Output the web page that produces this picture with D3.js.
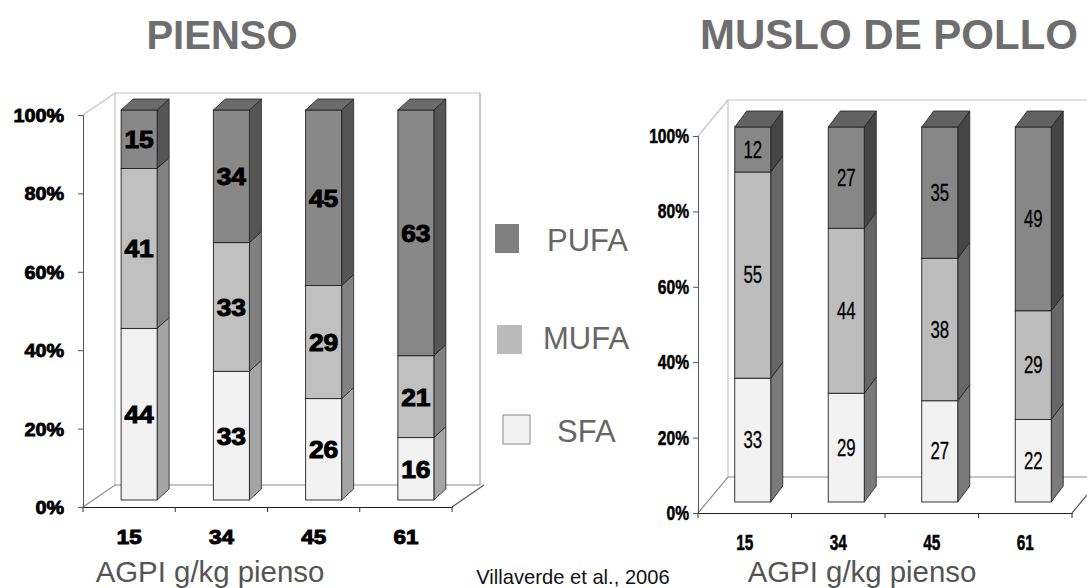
<!DOCTYPE html>
<html>
<head>
<meta charset="utf-8">
<script src="https://cdn.jsdelivr.net/npm/d3@7"></script>
<style>
  html, body { margin: 0; padding: 0; background: #fff; }
  svg { display: block; }
</style>
</head>
<body>
<svg id="chart" width="1087" height="588"></svg>
<script>
// Fatty acid profile (% of total) by PUFA level in feed
const categories = ["15", "34", "45", "61"];
const seriesNames = ["SFA", "MUFA", "PUFA"];
const yTickValues = [0, 20, 40, 60, 80, 100];

// Feed (pienso)
const piensoSFA  = [44, 33, 26, 16];
const piensoMUFA = [41, 33, 29, 21];
const piensoPUFA = [15, 34, 45, 63];

// Chicken thigh (muslo de pollo)
const musloSFA  = [33, 29, 27, 22];
const musloMUFA = [55, 44, 38, 29];
const musloPUFA = [12, 27, 35, 49];

const svg = d3.select("#chart");

function rowsFrom(sfa, mufa, pufa) {
  return categories.map((c, i) => ({ cat: c, SFA: sfa[i], MUFA: mufa[i], PUFA: pufa[i] }));
}

// Draws one pseudo-3D stacked 100% column panel
function drawPanel(rows, o) {
  const g = svg.append("g");

  const x = d3.scaleBand().domain(categories).range([o.axisX, o.axisRight]).paddingInner(0).paddingOuter(0);
  const yAxis = d3.scaleLinear().domain([0, 100]).range([o.axisY0, o.axisY100]);
  const yBar = d3.scaleLinear().domain([0, 100]).range([o.barY0, o.barY100]);

  const wdx = o.wallDx, wdy = o.wallDy;
  const wall = g.append("g").attr("fill", "none");
  // back wall
  wall.append("path")
    .attr("d", `M${o.axisX + wdx},${yAxis(0) - wdy} V${yAxis(100) - wdy} H${o.wallRight}`)
    .attr("stroke", "#c4c4c4").attr("stroke-width", 1.2);
  if (o.wallRight < 1087) {
    wall.append("line")
      .attr("x1", o.wallRight).attr("x2", o.wallRight)
      .attr("y1", yAxis(100) - wdy).attr("y2", yAxis(0) - wdy)
      .attr("stroke", "#b0b0b0").attr("stroke-width", 1.4);
  }
  // diagonal at top-left
  wall.append("line")
    .attr("x1", o.axisX).attr("y1", yAxis(100))
    .attr("x2", o.axisX + wdx).attr("y2", yAxis(100) - wdy)
    .attr("stroke", "#c4c4c4").attr("stroke-width", 1.2);
  // floor
  wall.append("path")
    .attr("d", `M${o.axisX},${yAxis(0)} L${o.axisX + wdx},${yAxis(0) - wdy} H${o.wallRight}`)
    .attr("stroke", "#8a8a8a").attr("stroke-width", 1.2);
  wall.append("line")
    .attr("x1", o.axisRight).attr("y1", yAxis(0))
    .attr("x2", o.axisRight + wdx).attr("y2", yAxis(0) - wdy)
    .attr("stroke", "#555").attr("stroke-width", 1.2);

  // front axes
  const yAx = g.append("g").attr("transform", `translate(${o.axisX},0)`)
    .call(d3.axisLeft(yAxis).tickValues(yTickValues).tickSize(5).tickFormat(""));
  yAx.select(".domain").attr("stroke", "#555");
  yAx.selectAll(".tick line").attr("stroke", "#555");

  const xAx = g.append("g").attr("transform", `translate(0,${yAxis(0)})`)
    .call(d3.axisBottom(x).tickSize(0).tickFormat(""));
  xAx.select(".domain").attr("stroke", "#222");
  // tick marks on band boundaries
  const bounds = categories.map(c => x(c)).concat([o.axisRight]);
  g.selectAll(".xb").data(bounds).enter().append("line")
    .attr("x1", d => d).attr("x2", d => d)
    .attr("y1", yAxis(0)).attr("y2", yAxis(0) + 5)
    .attr("stroke", "#333");

  // y tick labels
  yTickValues.forEach(v => {
    const t = g.append("g").attr("transform", `translate(${o.tickLabelX},${yAxis(v) + o.tickLabelDy}) scale(${o.tickScaleX},1)`);
    t.append("text")
      .attr("text-anchor", "end")
      .attr("font-family", "Liberation Sans, Arial, sans-serif")
      .attr("font-weight", "bold")
      .attr("font-size", o.tickFont)
      .attr("fill", "#000")
      .attr("stroke", "#000").attr("stroke-width", o.tickStroke)
      .text(v + "%");
  });

  // x category labels
  categories.forEach(c => {
    const t = g.append("g").attr("transform", `translate(${x(c) + x.bandwidth() / 2 + o.catDx},${o.catY}) scale(${o.catScaleX},1)`);
    t.append("text")
      .attr("text-anchor", "middle")
      .attr("font-family", "Liberation Sans, Arial, sans-serif")
      .attr("font-weight", "bold")
      .attr("font-size", o.catFont)
      .attr("fill", "#000")
      .attr("stroke", "#000").attr("stroke-width", o.catStroke)
      .text(c);
  });

  // bars
  const stack = d3.stack().keys(seriesNames)(rows);
  const bw = o.barW, bdx = o.barDx, bdy = o.barDy;
  const barX = c => x(c) + x.bandwidth() / 2 + o.barShift - bw / 2;

  stack.forEach((layer, li) => {
    const key = layer.key;
    const col = o.colors[key];
    layer.forEach(d => {
      const c = d.data.cat;
      const x0 = barX(c);
      const yt = yBar(d[1]), yb = yBar(d[0]);
      // side face
      g.append("path")
        .attr("d", `M${x0 + bw},${yt} L${x0 + bw + bdx},${yt - bdy} L${x0 + bw + bdx},${yb - bdy} L${x0 + bw},${yb} Z`)
        .attr("fill", col.side).attr("stroke", "#222").attr("stroke-width", 0.8);
      // front face
      g.append("rect")
        .attr("x", x0).attr("y", yt).attr("width", bw).attr("height", yb - yt)
        .attr("fill", col.front).attr("stroke", "#222").attr("stroke-width", 0.9);
      // top face on the last segment
      if (li === stack.length - 1) {
        g.append("path")
          .attr("d", `M${x0},${yt} L${x0 + bdx},${yt - bdy} L${x0 + bw + bdx},${yt - bdy} L${x0 + bw},${yt} Z`)
          .attr("fill", col.top).attr("stroke", "#222").attr("stroke-width", 0.8);
      }
      // value label
      const val = d[1] - d[0];
      const t = g.append("g").attr("transform", `translate(${x0 + bw / 2},${(yt + yb) / 2 + o.valDy}) scale(${o.valScaleX},1)`);
      t.append("text")
        .attr("text-anchor", "middle")
        .attr("font-family", "Liberation Sans, Arial, sans-serif")
        .attr("font-weight", o.valWeight)
        .attr("font-size", o.valFont)
        .attr("fill", "#000")
        .attr("stroke", "#000").attr("stroke-width", o.valStroke)
        .text(val);
    });
  });
}

drawPanel(rowsFrom(piensoSFA, piensoMUFA, piensoPUFA), {
  axisX: 83, axisRight: 452, axisY0: 507, axisY100: 115,
  barY0: 500, barY100: 110,
  wallDx: 32, wallDy: 22, wallRight: 480,
  barW: 36, barDx: 12, barDy: 11, barShift: 10,
  tickLabelX: 64, tickLabelDy: 7, tickFont: 18, tickStroke: 0.8, tickScaleX: 1.1,
  catDx: 0, catY: 544, catFont: 20, catStroke: 1.0, catScaleX: 1.12,
  valFont: 24, valWeight: "bold", valStroke: 1.0, valScaleX: 1.1, valDy: 9,
  colors: {
    SFA:  { front: "#f2f2f2", side: "#a4a4a4", top: "#dcdcdc" },
    MUFA: { front: "#c0c0c0", side: "#818181", top: "#a0a0a0" },
    PUFA: { front: "#888888", side: "#555555", top: "#6b6b6b" }
  }
});

drawPanel(rowsFrom(musloSFA, musloMUFA, musloPUFA), {
  axisX: 698, axisRight: 1072, axisY0: 513, axisY100: 136,
  barY0: 502, barY100: 127,
  wallDx: 30, wallDy: 36, wallRight: 1100,
  barW: 36, barDx: 12, barDy: 16, barShift: 8,
  tickLabelX: 689, tickLabelDy: 7, tickFont: 20, tickStroke: 0.5, tickScaleX: 0.78,
  catDx: 0, catY: 550, catFont: 22, catStroke: 0.5, catScaleX: 0.7,
  valFont: 24, valWeight: "normal", valStroke: 0.3, valScaleX: 0.7, valDy: 8,
  colors: {
    SFA:  { front: "#f2f2f2", side: "#7a7a7a", top: "#d0d0d0" },
    MUFA: { front: "#bdbdbd", side: "#666666", top: "#9a9a9a" },
    PUFA: { front: "#878787", side: "#454545", top: "#626262" }
  }
});

// Titles
svg.append("text").attr("x", 222).attr("y", 49).attr("text-anchor", "middle")
  .attr("font-family", "Liberation Sans, Arial, sans-serif").attr("font-weight", "bold")
  .attr("font-size", 40).attr("fill", "#6e6e6e").text("PIENSO");
svg.append("text").attr("x", 889).attr("y", 49).attr("text-anchor", "middle")
  .attr("font-family", "Liberation Sans, Arial, sans-serif").attr("font-weight", "bold")
  .attr("font-size", 42).attr("fill", "#6e6e6e").text("MUSLO DE POLLO");

// Legend (top to bottom: PUFA, MUFA, SFA)
const legendItems = [
  { name: "PUFA", fill: "#808080", stroke: "none", sx: 495, sy: 224, sw: 24, sh: 29, tx: 547, ty: 251 },
  { name: "MUFA", fill: "#bbbbbb", stroke: "none", sx: 497, sy: 325, sw: 25, sh: 29, tx: 543, ty: 349 },
  { name: "SFA",  fill: "#f2f2f2", stroke: "#8a8a8a", sx: 503, sy: 415, sw: 27, sh: 29, tx: 557, ty: 442 }
];
const lg = svg.append("g");
legendItems.forEach(d => {
  lg.append("rect").attr("x", d.sx).attr("y", d.sy).attr("width", d.sw).attr("height", d.sh)
    .attr("fill", d.fill).attr("stroke", d.stroke);
  lg.append("text").attr("x", d.tx).attr("y", d.ty)
    .attr("font-family", "Liberation Sans, Arial, sans-serif").attr("font-size", 31)
    .attr("fill", "#666").text(d.name);
});

// Axis titles and source
function scaledText(x, y, size, sx, fill, txt) {
  svg.append("g").attr("transform", `translate(${x},${y}) scale(${sx},1)`)
    .append("text").attr("text-anchor", "middle")
    .attr("font-family", "Liberation Sans, Arial, sans-serif").attr("font-size", size)
    .attr("fill", fill).text(txt);
}
scaledText(210, 582, 30, 0.98, "#555", "AGPI g/kg pienso");
scaledText(862, 582, 30, 0.98, "#555", "AGPI g/kg pienso");
scaledText(573, 584, 21, 0.96, "#111", "Villaverde et al., 2006");
</script>
</body>
</html>
